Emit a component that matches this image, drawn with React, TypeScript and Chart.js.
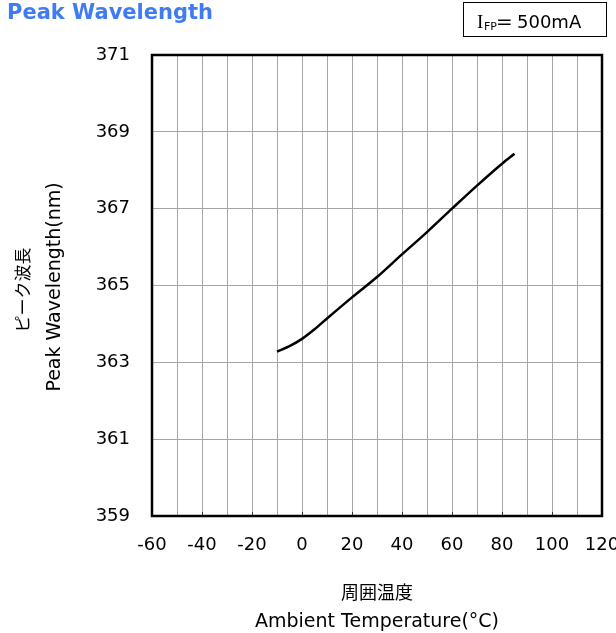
import React, { useEffect, useRef } from "react";
import { Chart, registerables } from "chart.js";

Chart.register(...registerables);

// ---- data ----
const temps = [-10, -5, 0, 5, 10, 20, 30, 40, 50, 60, 70, 80, 85];
const wavelengths = [363.28, 363.42, 363.61, 363.86, 364.14, 364.69, 365.22, 365.81, 366.39, 367.0, 367.6, 368.17, 368.43];

const xMin = -60;
const xMax = 120;
const xGridStep = 10;
const xLabelStep = 20;
const yMin = 359;
const yMax = 371;
const yStep = 2;

const chartTitle = "Peak Wavelength";
const yTitleJa = "ピーク波長";
const yTitleEn = "Peak Wavelength(nm)";
const xTitleJa = "周囲温度";
const xTitleEn = "Ambient Temperature(°C)";
const condSymbol = "I";
const condSub = "FP";
const condEq = "=";
const condValue = "500mA";

const FONT = "'DejaVu Sans', 'Noto Sans CJK JP', sans-serif";

export default function App() {
  const ref = useRef<HTMLCanvasElement>(null);

  useEffect(() => {
    if (!ref.current) return;

    const decor = {
      id: "decor",
      afterDraw(chart: any) {
        const { ctx, chartArea } = chart;
        const xs = chart.scales.x;
        ctx.save();
        // inner tick marks at labelled positions
        ctx.strokeStyle = "#333";
        ctx.lineWidth = 1;
        for (let v = xMin + xLabelStep; v < xMax; v += xLabelStep) {
          const px = Math.round(xs.getPixelForValue(v)) + 0.5;
          ctx.beginPath();
          ctx.moveTo(px, chartArea.bottom);
          ctx.lineTo(px, chartArea.bottom - 4);
          ctx.stroke();
        }
        // frame
        ctx.strokeStyle = "#000";
        ctx.lineWidth = 2.5;
        ctx.strokeRect(
          chartArea.left,
          chartArea.top,
          chartArea.right - chartArea.left,
          chartArea.bottom - chartArea.top
        );
        // title
        ctx.fillStyle = "#3f7bf2";
        ctx.font = "bold 21px 'DejaVu Sans', sans-serif";
        ctx.textBaseline = "alphabetic";
        ctx.textAlign = "left";
        ctx.fillText(chartTitle, 7, 19);
        // condition box
        ctx.strokeStyle = "#000";
        ctx.lineWidth = 1;
        ctx.strokeRect(463.5, 2.5, 143, 34);
        ctx.fillStyle = "#000";
        ctx.font = "19px 'Liberation Serif', serif";
        ctx.fillText(condSymbol, 477, 28);
        ctx.font = "11px 'DejaVu Sans', sans-serif";
        ctx.fillText(condSub, 484, 30);
        ctx.font = "20px 'DejaVu Sans', sans-serif";
        ctx.fillText(condEq, 496, 28);
        ctx.font = "18px 'DejaVu Sans', sans-serif";
        ctx.fillText(condValue, 517, 28);

        // axis titles
        ctx.textAlign = "center";
        ctx.textBaseline = "middle";
        const cx = (chartArea.left + chartArea.right) / 2;
        ctx.font = "18px 'Noto Sans CJK JP', sans-serif";
        ctx.fillText(xTitleJa, cx, 592);
        ctx.font = "19px 'DejaVu Sans', sans-serif";
        ctx.fillText(xTitleEn, cx, 622);

        ctx.save();
        ctx.translate(23, 290);
        ctx.rotate(-Math.PI / 2);
        ctx.font = "17px 'Noto Sans CJK JP', sans-serif";
        ctx.fillText(yTitleJa, 0, 0);
        ctx.restore();
        ctx.save();
        ctx.translate(55, 287);
        ctx.rotate(-Math.PI / 2);
        ctx.font = "19px 'DejaVu Sans', sans-serif";
        ctx.fillText(yTitleEn, 0, 0);
        ctx.restore();

        ctx.restore();
      },
    };

    const chart = new Chart(ref.current, {
      type: "line",
      data: {
        datasets: [
          {
            data: temps.map((t, i) => ({ x: t, y: wavelengths[i] })),
            borderColor: "#000",
            borderWidth: 2.5,
            pointRadius: 0,
            fill: false,
            cubicInterpolationMode: "monotone",
          },
        ],
      },
      options: {
        responsive: false,
        animation: false,
        events: [],
        layout: { padding: { top: 55, right: 14, left: 0, bottom: 0 } },
        plugins: {
          legend: { display: false },
          tooltip: { enabled: false },
          title: { display: false },
        },
        scales: {
          x: {
            type: "linear",
            min: xMin,
            max: xMax,
            border: { display: false },
            grid: { color: "#a6a6a6", lineWidth: 1, drawTicks: false },
            ticks: {
              stepSize: xGridStep,
              autoSkip: false,
              maxRotation: 0,
              padding: 19,
              color: "#000",
              font: { family: FONT, size: 18 },
              callback: (v: any) => (Number(v) % xLabelStep === 0 ? String(v) : ""),
            },
            title: { display: false },
            afterFit: (s: any) => {
              s.height = 117;
              s.paddingLeft = 0;
              s.paddingRight = 0;
            },
          },
          y: {
            min: yMin,
            max: yMax,
            border: { display: false },
            grid: { color: "#a6a6a6", lineWidth: 1, drawTicks: false },
            ticks: {
              stepSize: yStep,
              padding: 22,
              color: "#000",
              font: { family: FONT, size: 18 },
            },
            title: { display: false },
            afterFit: (s: any) => {
              s.width = 152;
              s.paddingTop = 0;
              s.paddingBottom = 0;
            },
          },
        },
      },
      plugins: [decor],
    } as any);

    return () => chart.destroy();
  }, []);

  return (
    <div style={{ position: "absolute", left: 0, top: 0, width: 616, height: 633 }}>
      <canvas ref={ref} width={616} height={633} style={{ display: "block", width: 616, height: 633 }} />
    </div>
  );
}
